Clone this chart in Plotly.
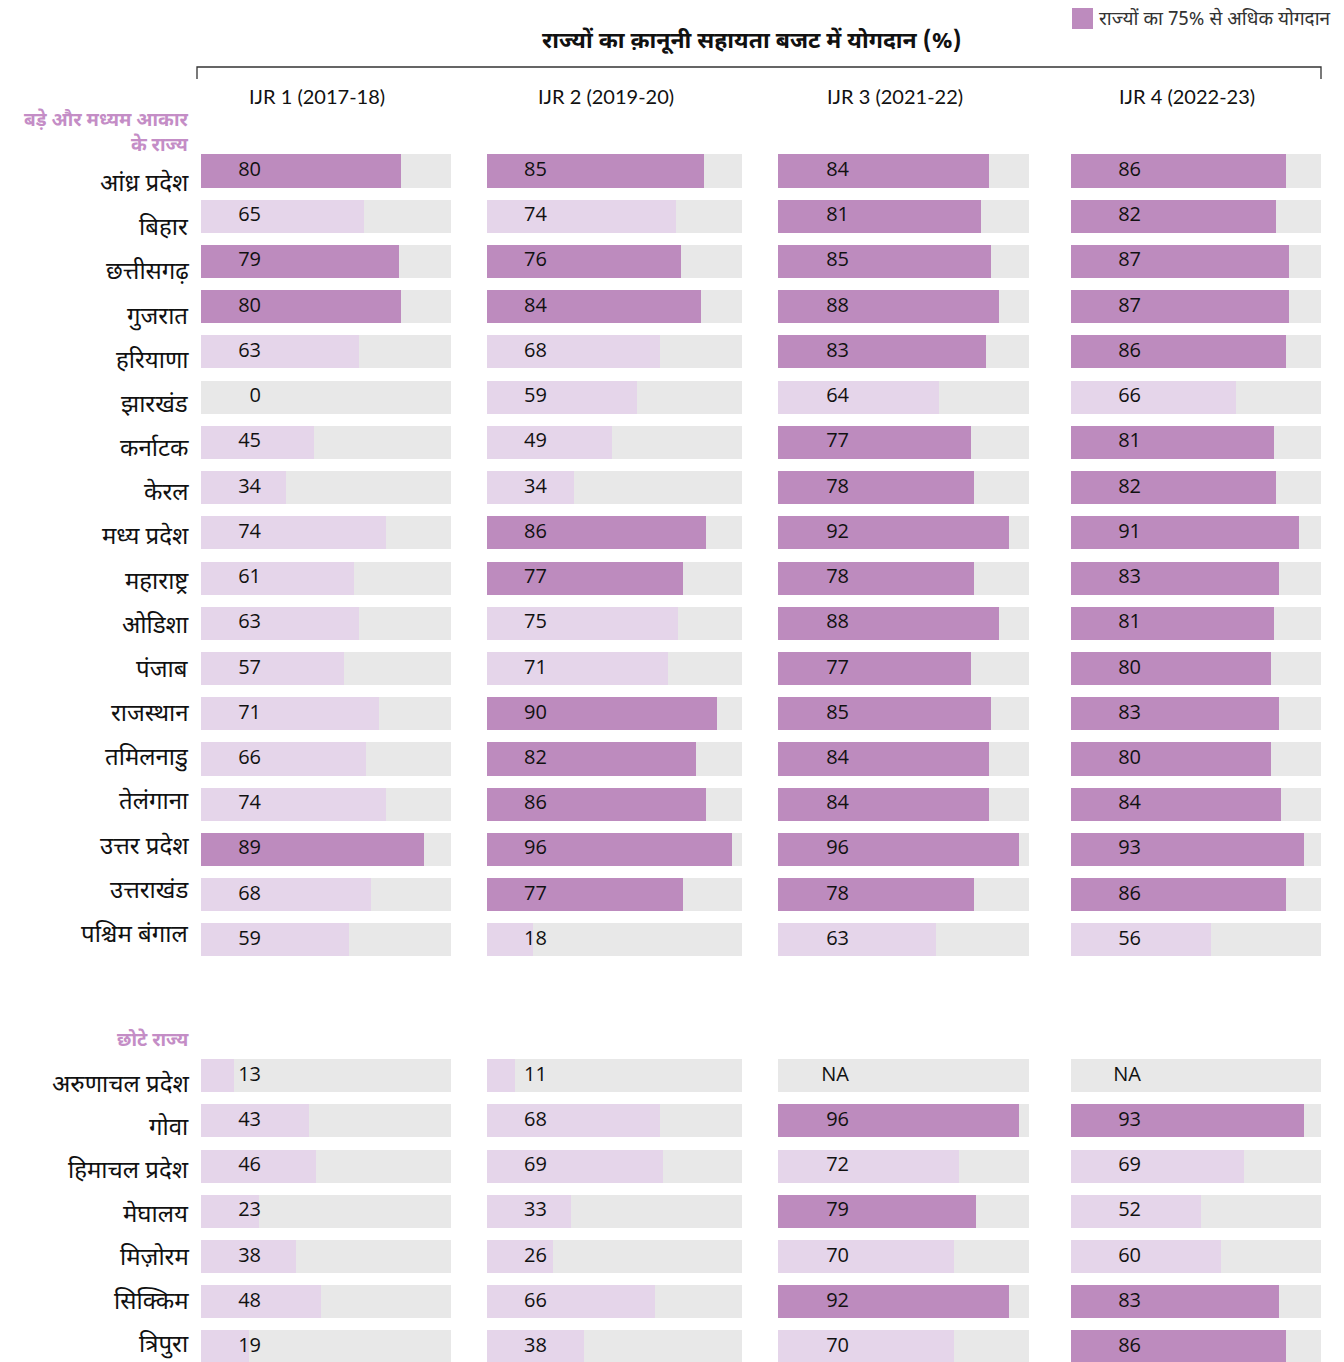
import plotly.graph_objects as go

# ---------------- data ----------------
large_states = ["आंध्र प्रदेश", "बिहार", "छत्तीसगढ़", "गुजरात", "हरियाणा", "झारखंड",
                "कर्नाटक", "केरल", "मध्य प्रदेश", "महाराष्ट्र", "ओडिशा", "पंजाब",
                "राजस्थान", "तमिलनाडु", "तेलंगाना", "उत्तर प्रदेश", "उत्तराखंड", "पश्चिम बंगाल"]
small_states = ["अरुणाचल प्रदेश", "गोवा", "हिमाचल प्रदेश", "मेघालय", "मिज़ोरम", "सिक्किम", "त्रिपुरा"]

periods = ["IJR 1 (2017-18)", "IJR 2 (2019-20)", "IJR 3 (2021-22)", "IJR 4 (2022-23)"]

ijr1_large = [80, 65, 79, 80, 63, 0, 45, 34, 74, 61, 63, 57, 71, 66, 74, 89, 68, 59]
ijr2_large = [85, 74, 76, 84, 68, 59, 49, 34, 86, 77, 75, 71, 90, 82, 86, 96, 77, 18]
ijr3_large = [84, 81, 85, 88, 83, 64, 77, 78, 92, 78, 88, 77, 85, 84, 84, 96, 78, 63]
ijr4_large = [86, 82, 87, 87, 86, 66, 81, 82, 91, 83, 81, 80, 83, 80, 84, 93, 86, 56]

ijr1_small = [13, 43, 46, 23, 38, 48, 19]
ijr2_small = [11, 68, 69, 33, 26, 66, 38]
ijr3_small = [None, 96, 72, 79, 70, 92, 70]
ijr4_small = [None, 93, 69, 52, 60, 83, 86]

threshold = 75
title = "राज्यों का क़ानूनी सहायता बजट में योगदान (%)"
legend_text = "राज्यों का 75% से अधिक योगदान"
group_large = "बड़े और मध्यम आकार<br>के राज्य"
group_small = "छोटे राज्य"

# ---------------- style ----------------
W, H = 1344, 1362
DARK = "#BD8BBE"
LIGHT = "#E5D5EA"
GREY = "#E8E8E8"
HEAD_PURPLE = "#C48DC6"
DEV_FONT = "Noto Sans Devanagari, Noto Sans, sans-serif"
NUM_FONT = "Open Sans, Noto Sans, sans-serif"
HDR_FONT = "Lato, Noto Sans, sans-serif"

col_px = [(201, 451), (487, 742), (778, 1029), (1071, 1321)]
label_x = [24, 23.5, 28.3, 28]
row_px_top, row_px_step = 171, 45.23


def ramp(a, b, n):
    return [a + (b - a) * k / (n - 1) for k in range(n)]


states = large_states + small_states
rows = list(range(len(large_states))) + list(range(20, 20 + len(small_states)))
name_shift = ramp(-14, 4, len(large_states)) + ramp(-10, 1, len(small_states))
series = [ijr1_large + ijr1_small, ijr2_large + ijr2_small,
          ijr3_large + ijr3_small, ijr4_large + ijr4_small]

y_top = -row_px_top / row_px_step
y_bot = (H - row_px_top) / row_px_step

fig = go.Figure()
layout_axes = {}
annotations = []
for i, vals in enumerate(series):
    ax = "x" if i == 0 else f"x{i+1}"
    axkey = "xaxis" if i == 0 else f"xaxis{i+1}"
    x0, x1 = col_px[i]
    layout_axes[axkey] = dict(domain=[x0 / W, x1 / W], range=[0, 100], visible=False,
                              fixedrange=True, anchor="y")
    # background
    fig.add_trace(go.Bar(x=[100] * len(rows), y=rows, orientation="h", xaxis=ax, yaxis="y",
                         marker=dict(color=GREY, line=dict(width=0)), width=0.73,
                         hoverinfo="skip", showlegend=False))
    xs = [v if v is not None else 0 for v in vals]
    cols = [DARK if (v is not None and v > threshold) else LIGHT for v in vals]
    fig.add_trace(go.Bar(x=xs, y=rows, orientation="h", xaxis=ax, yaxis="y",
                         marker=dict(color=cols, line=dict(width=0)), width=0.73,
                         showlegend=False))
    fig.add_trace(go.Scatter(x=[label_x[i]] * len(rows), y=rows, xaxis=ax, yaxis="y",
                             mode="text", text=[str(v) if v is not None else "NA" for v in vals],
                             textposition="middle left",
                             textfont=dict(family=NUM_FONT, size=20, color="#111111"),
                             showlegend=False, hoverinfo="skip"))
    annotations.append(dict(text=periods[i], xref=ax, yref="paper", x=46.5, y=1 - 96 / H,
                            showarrow=False, xanchor="center", yanchor="middle",
                            font=dict(family=HDR_FONT, size=20, color="#111111")))

for s, r, sh in zip(states, rows, name_shift):
    annotations.append(dict(text=s, xref="paper", yref="y", x=191 / W, y=r, yshift=sh,
                            showarrow=False, xanchor="right", yanchor="middle",
                            font=dict(family=DEV_FONT, size=24, color="#111111")))

annotations.append(dict(text="<b>" + group_large + "</b>", xref="paper", yref="paper",
                        x=191 / W, y=1 - 134 / H, showarrow=False, xanchor="right",
                        yanchor="middle", align="right",
                        font=dict(family=DEV_FONT, size=19, color=HEAD_PURPLE)))
annotations.append(dict(text="<b>" + group_small + "</b>", xref="paper", yref="paper",
                        x=191 / W, y=1 - 1041 / H, showarrow=False, xanchor="right",
                        yanchor="middle", align="right",
                        font=dict(family=DEV_FONT, size=19, color=HEAD_PURPLE)))
annotations.append(dict(text="<b>" + title + "</b>", xref="paper", yref="paper",
                        x=752 / W, y=1 - 42 / H, showarrow=False, xanchor="center",
                        yanchor="middle",
                        font=dict(family=DEV_FONT, size=23, color="#111111")))
annotations.append(dict(text=legend_text, xref="paper", yref="paper",
                        x=1097 / W, y=1 - 20 / H, showarrow=False, xanchor="left",
                        yanchor="middle",
                        font=dict(family=DEV_FONT, size=19, color="#333333")))

shapes = [
    dict(type="rect", xref="paper", yref="paper", x0=1072 / W, x1=1093 / W,
         y0=1 - 29 / H, y1=1 - 8 / H, fillcolor=DARK, line=dict(width=0)),
    dict(type="path", xref="paper", yref="paper",
         path=f"M {197/W},{1-79/H} L {197/W},{1-67/H} L {1321/W},{1-67/H} L {1321/W},{1-79/H}",
         line=dict(color="#333333", width=1.3)),
]

fig.update_layout(
    width=W, height=H, margin=dict(l=0, r=0, t=0, b=0),
    paper_bgcolor="white", plot_bgcolor="white",
    barmode="overlay", bargap=0,
    yaxis=dict(domain=[0, 1], range=[y_bot, y_top], visible=False, fixedrange=True,
               anchor="x"),
    annotations=annotations, shapes=shapes, showlegend=False,
    **layout_axes,
)

fig.write_html("out.html", config={"displayModeBar": False},
               post_script="document.body.style.margin='0px';document.body.style.overflow='hidden';")
